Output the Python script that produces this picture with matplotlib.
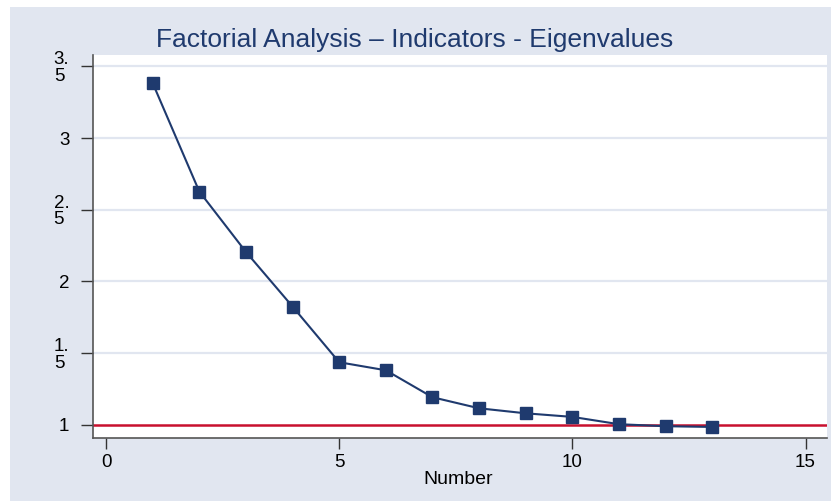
import matplotlib
matplotlib.use("Agg")
import matplotlib.pyplot as plt
from matplotlib.patches import Rectangle

numbers = [1, 2, 3, 4, 5, 6, 7, 8, 9, 10, 11, 12, 13]
eigenvalues = [3.383, 2.627, 2.206, 1.825, 1.437, 1.381, 1.193, 1.116, 1.081, 1.056, 1.005, 0.991, 0.986]
y_ticks = [1, 1.5, 2, 2.5, 3, 3.5]
y_tick_labels = ["1", "1.\n5", "2", "2.\n5", "3", "3.\n5"]
x_ticks = [0, 5, 10, 15]
x_tick_labels = ["0", "5", "10", "15"]
threshold = 1
title = "Factorial Analysis \u2013 Indicators - Eigenvalues"
xlabel = "Number"

plt.rcParams['font.family'] = ['Liberation Sans', 'DejaVu Sans']

W, H = 831, 501
fig = plt.figure(figsize=(W / 100, H / 100), dpi=100, facecolor="white")
bg = "#E1E6F0"
fig.patches.append(Rectangle((10 / W, 0), 1 - 10 / W, 1 - 7 / H, transform=fig.transFigure,
                             facecolor=bg, edgecolor="none", zorder=-10))

left, right, top, bottom = 93, 827, 55, 437.7
ax = fig.add_axes([left / W, 1 - bottom / H, (right - left) / W, (bottom - top) / H])
ax.set_facecolor("white")

ax.set_xlim(-0.28, 15.46)
ax.set_ylim(0.911, 3.579)

for yv in y_ticks:
    if yv != threshold:
        ax.axhline(yv, color="#E1E6F0", lw=1.6, zorder=1)

ax.axhline(threshold, color="#C8102E", lw=1.8, zorder=2)
ax.plot(numbers, eigenvalues, color="#1F3A6E", lw=1.5, marker="s", markersize=8,
        markerfacecolor="#1F3A6E", markeredgecolor="#1F3A6E", zorder=3, clip_on=False)

ax.set_yticks(y_ticks)
ax.set_yticklabels(y_tick_labels, fontsize=13.5, linespacing=0.95)
for lab in ax.get_yticklabels():
    lab.set_multialignment("left")
ax.set_xticks(x_ticks)
ax.set_xticklabels(x_tick_labels, fontsize=13.5)
ax.tick_params(axis="y", direction="out", length=9, width=1, color="#333333", pad=8)
ax.tick_params(axis="x", direction="out", length=8, width=1, color="#333333", pad=4)

for s in ["top", "right"]:
    ax.spines[s].set_visible(False)
for s in ["left", "bottom"]:
    ax.spines[s].set_color("#555555")
    ax.spines[s].set_linewidth(1.2)

fig.text(415 / W, 1 - 40 / H, title, ha="center", va="center", fontsize=19, color="#1F3A6E")
fig.text(458 / W, 1 - 479 / H, xlabel, ha="center", va="center", fontsize=14, color="black")

fig.savefig("out.png", dpi=100, facecolor="white")
